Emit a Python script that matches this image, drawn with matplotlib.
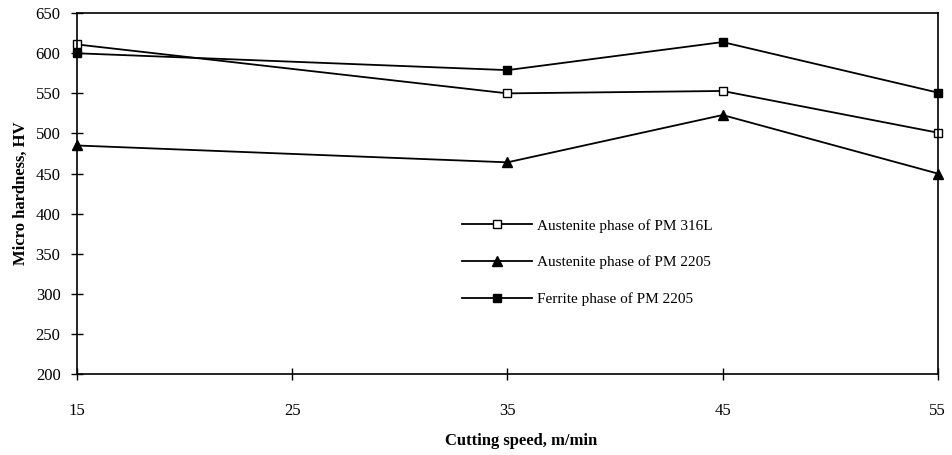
import numpy as np
import matplotlib
matplotlib.use('Agg')
import matplotlib.pyplot as plt

plt.rcParams['font.family'] = ['Liberation Serif', 'DejaVu Serif']

# cutting speed, m/min
speed = [15, 35, 45, 55]

# micro hardness, HV
aust_316l = [611, 550, 553, 501]
aust_2205 = [485, 464, 523, 450]
ferr_2205 = [600, 579, 614, 551]

labels = ['Austenite phase of PM 316L',
          'Austenite phase of PM 2205',
          'Ferrite phase of PM 2205']

xticks = [15, 25, 35, 45, 55]
yticks = np.arange(200, 651, 50)

fig = plt.figure(figsize=(9.53, 4.55), dpi=100)
ax = fig.add_axes([0.081, 0.178, 0.903, 0.793])

ax.plot(speed, aust_316l, color='black', lw=1.3, marker='s', ms=6,
        mfc='white', mec='black', mew=1.0, label=labels[0], clip_on=False)
ax.plot(speed, aust_2205, color='black', lw=1.3, marker='^', ms=7,
        mfc='black', mec='black', label=labels[1], clip_on=False)
ax.plot(speed, ferr_2205, color='black', lw=1.3, marker='s', ms=6,
        mfc='black', mec='black', label=labels[2], clip_on=False)

ax.set_xlim(15, 55)
ax.set_ylim(200, 650)
ax.set_xticks(xticks)
ax.set_yticks(yticks)

for s in ax.spines.values():
    s.set_linewidth(1.2)
    s.set_color('black')

ax.tick_params(axis='both', direction='inout', length=8, width=1.0,
               labelsize=12, colors='black')
ax.tick_params(axis='x', pad=17)
ax.tick_params(axis='y', pad=8)

ax.set_xlabel('Cutting speed, m/min', fontsize=12, fontweight='bold',
              labelpad=10, x=0.516)
ax.set_ylabel('Micro hardness, HV', fontsize=12, fontweight='bold', labelpad=5)

leg = ax.legend(loc='upper left', bbox_to_anchor=(0.44, 0.447), frameon=False,
                fontsize=11, handlelength=4.6, labelspacing=1.5,
                handletextpad=0.3, borderaxespad=0)

plt.savefig('out.png', dpi=100)
